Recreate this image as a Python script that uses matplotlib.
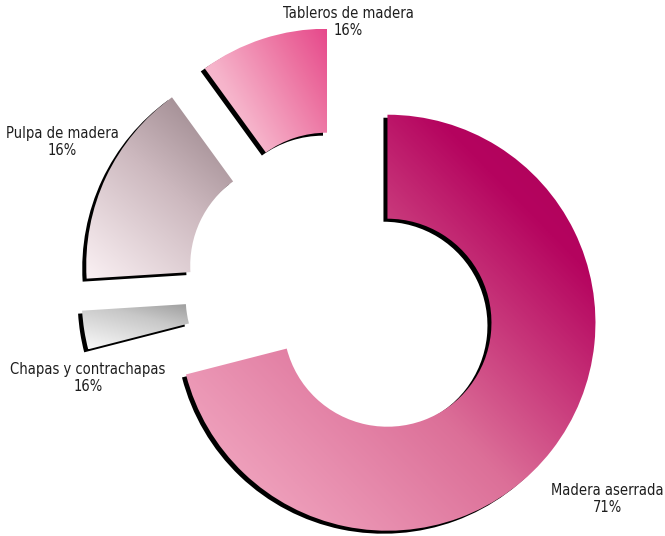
import numpy as np
import matplotlib
matplotlib.use('Agg')
import matplotlib.pyplot as plt
from matplotlib.patches import Wedge
from matplotlib.colors import LinearSegmentedColormap

# Données
categorias = ['Madera aserrada', 'Chapas y contrachapas', 'Pulpa de madera', 'Tableros de madera']
valores = [71, 3, 16, 10]
etiquetas_pct = ['71%', '16%', '16%', '16%']
# degradados (claro -> medio -> oscuro)
colores = [['#f6b4ca', '#dc6f98', '#b5045f', '#ab0058'],
           ['#fafafa', '#c8c8c8', '#8a8a8a', '#6e6e6e'],
           ['#fbf1f4', '#cdb9bf', '#9a858b', '#8a7379'],
           ['#fde0e9', '#f6b3ca', '#ec6f9f', '#e6488b']]

fig = plt.figure(figsize=(6.65, 5.36), dpi=100)
ax = fig.add_axes([0, 0, 1, 1])

radio = 208
centro = (344, 247)
wedges, _ = ax.pie(valores, radius=radio, center=centro, startangle=90,
                   counterclock=False, explode=[55] * 4,
                   wedgeprops=dict(width=104, linewidth=0))

for w, cols in zip(wedges, colores):
    # sombra negra desplazada abajo a la izquierda
    sombra = Wedge((w.center[0] - 4, w.center[1] - 3), w.r, w.theta1, w.theta2,
                   width=w.width, facecolor='black', linewidth=0, zorder=1)
    ax.add_patch(sombra)
    w.set_facecolor('none')
    w.set_zorder(3)
    verts = w.get_path().vertices
    x0, y0 = verts.min(axis=0)
    x1, y1 = verts.max(axis=0)
    u, v = np.meshgrid(np.linspace(0, 1, 200), np.linspace(0, 1, 200))
    grad = (u + v) / 2
    cmap = LinearSegmentedColormap.from_list('g', list(zip([0, 0.45, 0.8, 1], cols)))
    im = ax.imshow(grad, cmap=cmap, extent=(x0, x1, y0, y1), origin='lower',
                   interpolation='bilinear', zorder=2, aspect='auto', vmin=0, vmax=1)
    im.set_clip_path(w)

# Etiquetas
pos_texto = [(607, 37), (88, 158), (62, 394), (348, 514)]
for (tx, ty), cat, pct in zip(pos_texto, categorias, etiquetas_pct):
    ax.text(tx, ty, cat + '\n' + pct, ha='center', va='center', fontsize=10.5,
            family='DejaVu Sans', fontstretch='condensed',
            color='#1e1e1e', linespacing=1.2, zorder=5)

ax.set_xlim(0, 665)
ax.set_ylim(0, 536)
ax.set_aspect('equal')
ax.axis('off')

plt.savefig('out.png', dpi=100)
